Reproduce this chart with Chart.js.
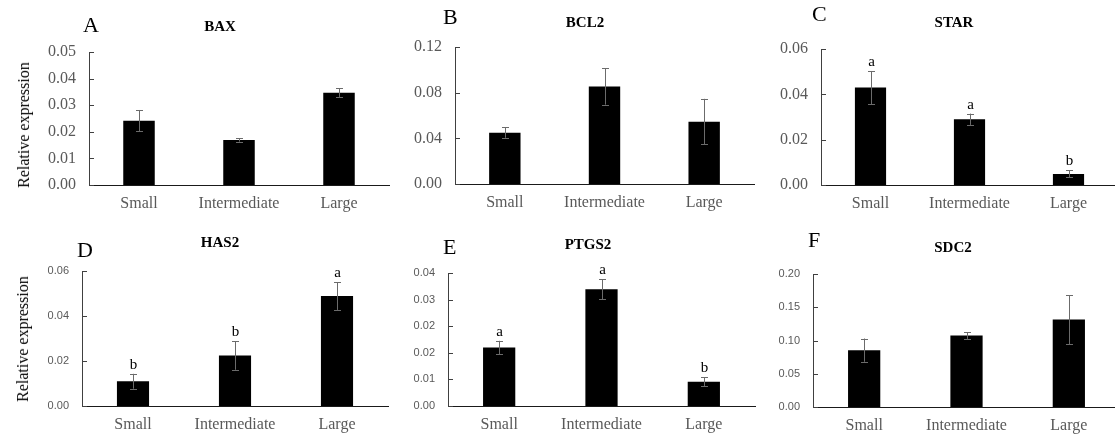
<!DOCTYPE html>
<html>
<head>
<meta charset="utf-8">
<script src="https://cdn.jsdelivr.net/npm/chart.js@4.4.0/dist/chart.umd.min.js"></script>
<style>
  body { margin: 0; width: 1115px; height: 436px; overflow: hidden; background: #fff; position: relative; font-family: 'Liberation Serif', serif; }
  canvas { position: absolute; }
  .lbl { position: absolute; white-space: nowrap; line-height: 1; color: #000; }
  .letter { font-size: 22px; }
  .gene { font-size: 15px; font-weight: bold; transform: translateX(-50%); }
  .ytitle { font-size: 16px; transform: translate(-50%, -50%) rotate(-90deg); }
</style>
</head>
<body>
<script>
const categories = ['Small', 'Intermediate', 'Large']

const baxMean = [0.0242, 0.0169, 0.0347]
const baxErr = [0.0040, 0.0006, 0.0016]
const baxTicks = [0, 0.01, 0.02, 0.03, 0.04, 0.05]

const bcl2Mean = [0.0450, 0.0855, 0.0546]
const bcl2Err = [0.0045, 0.0160, 0.0200]
const bcl2Ticks = [0, 0.04, 0.08, 0.12]

const starMean = [0.0430, 0.0290, 0.0049]
const starErr = [0.0073, 0.0025, 0.0015]
const starSig = ['a', 'a', 'b']
const starTicks = [0, 0.02, 0.04, 0.06]

const has2Mean = [0.0110, 0.0224, 0.0489]
const has2Err = [0.0033, 0.0063, 0.0062]
const has2Sig = ['b', 'b', 'a']
const has2Ticks = [0, 0.02, 0.04, 0.06]

const ptgs2Mean = [0.0176, 0.0351, 0.0073]
const ptgs2Err = [0.0020, 0.0030, 0.0013]
const ptgs2Sig = ['a', 'a', 'b']
const ptgs2Ticks = [0, 0.008, 0.016, 0.024, 0.032, 0.04]

const sdc2Mean = [0.0855, 0.1074, 0.1314]
const sdc2Err = [0.0175, 0.0050, 0.0370]
const sdc2Ticks = [0, 0.05, 0.10, 0.15, 0.20]

// chart area of each panel in page pixels
const panels = [
  { letter: 'A', gene: 'BAX', mean: baxMean, err: baxErr, sig: null, ticks: baxTicks, small: false,
    L: 89, R: 389, T: 52, B: 185, letterPos: [83, 14], genePos: [220, 19], ytitle: [24, 125] },
  { letter: 'B', gene: 'BCL2', mean: bcl2Mean, err: bcl2Err, sig: null, ticks: bcl2Ticks, small: false,
    L: 455, R: 754, T: 47, B: 184, letterPos: [443, 6], genePos: [585, 15] },
  { letter: 'C', gene: 'STAR', mean: starMean, err: starErr, sig: starSig, ticks: starTicks, small: false,
    L: 821, R: 1118, T: 49, B: 185, letterPos: [812, 3], genePos: [954, 15] },
  { letter: 'D', gene: 'HAS2', mean: has2Mean, err: has2Err, sig: has2Sig, ticks: has2Ticks, small: true,
    L: 82, R: 388, T: 271, B: 406, letterPos: [77, 239], genePos: [220, 235], ytitle: [23, 339] },
  { letter: 'E', gene: 'PTGS2', mean: ptgs2Mean, err: ptgs2Err, sig: ptgs2Sig, ticks: ptgs2Ticks, small: true,
    L: 448, R: 755, T: 273, B: 406, letterPos: [443, 236], genePos: [588, 237] },
  { letter: 'F', gene: 'SDC2', mean: sdc2Mean, err: sdc2Err, sig: null, ticks: sdc2Ticks, small: true,
    L: 813, R: 1120, T: 274, B: 407, letterPos: [808, 229], genePos: [953, 240] }
]

function addText(cls, text, x, y) {
  const d = document.createElement('div')
  d.className = 'lbl ' + cls
  d.textContent = text
  d.style.left = x + 'px'
  d.style.top = y + 'px'
  document.body.appendChild(d)
}

const errorBars = {
  id: 'errorBars',
  afterDatasetsDraw(chart, args, opts) {
    const ctx = chart.ctx
    const y = chart.scales.y
    const bars = chart.getDatasetMeta(0).data
    ctx.save()
    // inside tick marks on the y axis
    ctx.strokeStyle = '#404040'
    ctx.lineWidth = 1
    for (const t of y.ticks) {
      const py = Math.round(y.getPixelForValue(t.value)) + 0.5
      ctx.beginPath()
      ctx.moveTo(chart.chartArea.left, py)
      ctx.lineTo(chart.chartArea.left + 5, py)
      ctx.stroke()
    }
    ctx.strokeStyle = '#6b6b6b'
    for (let i = 0; i < bars.length; i++) {
      const x = Math.round(bars[i].x) + 0.5
      const top = y.getPixelForValue(opts.mean[i] + opts.err[i])
      const bot = y.getPixelForValue(opts.mean[i] - opts.err[i])
      ctx.beginPath()
      ctx.moveTo(x, top)
      ctx.lineTo(x, bot)
      ctx.moveTo(x - 3.5, Math.round(top) + 0.5)
      ctx.lineTo(x + 3.5, Math.round(top) + 0.5)
      ctx.moveTo(x - 3.5, Math.round(bot) + 0.5)
      ctx.lineTo(x + 3.5, Math.round(bot) + 0.5)
      ctx.stroke()
      if (opts.sig) {
        ctx.fillStyle = '#000'
        ctx.font = '15px "Liberation Serif"'
        ctx.textAlign = 'center'
        ctx.textBaseline = 'alphabetic'
        ctx.fillText(opts.sig[i], x, top - 5)
      }
    }
    ctx.restore()
  }
}

function createPanel(p) {
  const canvas = document.createElement('canvas')
  const w = p.R - p.L + 100
  const h = p.B - p.T + 95
  canvas.width = w
  canvas.height = h
  canvas.style.width = w + 'px'
  canvas.style.height = h + 'px'
  canvas.style.left = (p.L - 90) + 'px'
  canvas.style.top = (p.T - 55) + 'px'
  document.body.appendChild(canvas)

  const tickFont = p.small ? { family: 'Liberation Sans', size: 11 } : { family: 'Liberation Serif', size: 16 }

  new Chart(canvas.getContext('2d'), {
    type: 'bar',
    data: {
      labels: categories,
      datasets: [{
        data: p.mean,
        backgroundColor: '#000',
        borderWidth: 0,
        barPercentage: 0.315,
        categoryPercentage: 1
      }]
    },
    options: {
      responsive: false,
      animation: false,
      layout: { padding: { top: 55, right: 10, bottom: 0, left: 0 } },
      plugins: {
        legend: { display: false },
        tooltip: { enabled: false },
        errorBars: { mean: p.mean, err: p.err, sig: p.sig }
      },
      scales: {
        x: {
          grid: { display: false, drawTicks: false },
          border: { display: true, color: '#1a1a1a', width: 1 },
          ticks: { font: { family: 'Liberation Serif', size: 16 }, color: '#595959', padding: 9, maxRotation: 0 },
          afterFit: (s) => { s.height = 40 }
        },
        y: {
          min: 0,
          max: p.ticks[p.ticks.length - 1],
          afterBuildTicks: (s) => { s.ticks = p.ticks.map(v => ({ value: v })) },
          grid: { display: false, drawTicks: false },
          border: { display: true, color: '#404040', width: 1 },
          ticks: { font: tickFont, color: '#595959', padding: 13, callback: (v) => Number(v).toFixed(2) },
          afterFit: (s) => { s.width = 90 }
        }
      }
    },
    plugins: [errorBars]
  })

  addText('letter', p.letter, p.letterPos[0], p.letterPos[1])
  addText('gene', p.gene, p.genePos[0], p.genePos[1])
  if (p.ytitle) addText('ytitle', 'Relative expression', p.ytitle[0], p.ytitle[1])
}

for (const p of panels) {
  createPanel(p)
}
</script>
</body>
</html>
